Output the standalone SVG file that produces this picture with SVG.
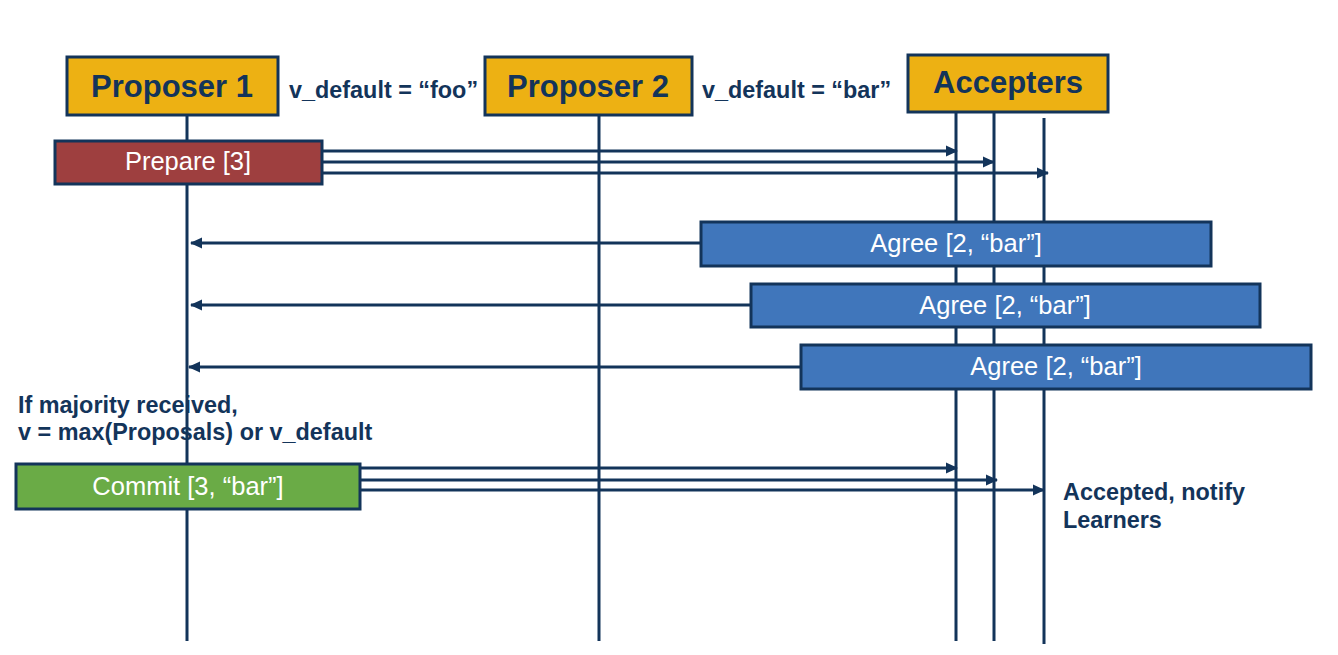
<svg xmlns="http://www.w3.org/2000/svg" width="1338" height="655" viewBox="0 0 1338 655">
<defs>
<style>
.life{stroke:#13345A;stroke-width:3;fill:none}
.msg{stroke:#13345A;stroke-width:3;fill:none}
.head{fill:#EDB113;stroke:#13345A;stroke-width:3}
.ht{font-family:"Liberation Sans",Arial,sans-serif;font-weight:bold;font-size:31px;fill:#13345A;text-anchor:middle}
.note{font-family:"Liberation Sans",Arial,sans-serif;font-weight:bold;font-size:23.4px;fill:#13345A}
.box{stroke:#13345A;stroke-width:3}
.bt{font-family:"Liberation Sans",Arial,sans-serif;font-size:25.5px;fill:#ffffff;text-anchor:middle}
</style>
<marker id="ah" markerWidth="12" markerHeight="12" refX="11" refY="6" orient="auto" markerUnits="userSpaceOnUse">
<path d="M0,0.5 L12,6 L0,11.5 Z" fill="#13345A"/>
</marker>
</defs>
<rect width="1338" height="655" fill="#ffffff"/>
<g id="lifelines">
<line class="life" x1="187" y1="115" x2="187" y2="641"/>
<line class="life" x1="599" y1="115" x2="599" y2="641"/>
<line class="life" x1="956" y1="112" x2="956" y2="641"/>
<line class="life" x1="994" y1="112" x2="994" y2="641"/>
<line class="life" x1="1044" y1="118" x2="1044" y2="644"/>
</g>
<g id="connectors">
<line class="msg" x1="322" y1="151" x2="957" y2="151" marker-end="url(#ah)"/>
<line class="msg" x1="322" y1="162" x2="994" y2="162" marker-end="url(#ah)"/>
<line class="msg" x1="322" y1="173" x2="1048" y2="173" marker-end="url(#ah)"/>
<line class="msg" x1="701" y1="243" x2="191" y2="243" marker-end="url(#ah)"/>
<line class="msg" x1="751" y1="305" x2="191" y2="305" marker-end="url(#ah)"/>
<line class="msg" x1="801" y1="367" x2="189" y2="367" marker-end="url(#ah)"/>
<line class="msg" x1="360" y1="468" x2="957" y2="468" marker-end="url(#ah)"/>
<line class="msg" x1="360" y1="480" x2="997" y2="480" marker-end="url(#ah)"/>
<line class="msg" x1="360" y1="490" x2="1044" y2="490" marker-end="url(#ah)"/>
</g>
<g id="proposer1">
<rect class="head" x="67" y="57" width="211" height="58"/>
<text class="ht" x="172" y="97">Proposer 1</text>
</g>
<g id="proposer2">
<rect class="head" x="485" y="57" width="207" height="58"/>
<text class="ht" x="588" y="97">Proposer 2</text>
</g>
<g id="accepters">
<rect class="head" x="908" y="55" width="200" height="57"/>
<text class="ht" x="1008" y="93">Accepters</text>
</g>
<g id="vdefault-foo">
<text class="note" x="289" y="98">v_default = “foo”</text>
</g>
<g id="vdefault-bar">
<text class="note" x="702" y="98">v_default = “bar”</text>
</g>
<g id="prepare">
<rect class="box" x="55" y="141" width="267" height="43" fill="#9E3F3F"/>
<text class="bt" x="188" y="170">Prepare [3]</text>
</g>
<g id="agree1">
<rect class="box" x="701" y="222" width="510" height="44" fill="#4076BB"/>
<text class="bt" x="956" y="252">Agree [2, “bar”]</text>
</g>
<g id="agree2">
<rect class="box" x="751" y="284" width="509" height="43" fill="#4076BB"/>
<text class="bt" x="1005" y="314">Agree [2, “bar”]</text>
</g>
<g id="agree3">
<rect class="box" x="801" y="345" width="510" height="44" fill="#4076BB"/>
<text class="bt" x="1056" y="375">Agree [2, “bar”]</text>
</g>
<g id="majority-note">
<text class="note" x="18" y="413">If majority received,</text>
<text class="note" x="18" y="440">v = max(Proposals) or v_default</text>
</g>
<g id="commit">
<rect class="box" x="16" y="464" width="344" height="45" fill="#6AAB46"/>
<text class="bt" x="188" y="495">Commit [3, “bar”]</text>
</g>
<g id="accepted-note">
<text class="note" x="1063" y="500">Accepted, notify</text>
<text class="note" x="1063" y="528">Learners</text>
</g>
</svg>
